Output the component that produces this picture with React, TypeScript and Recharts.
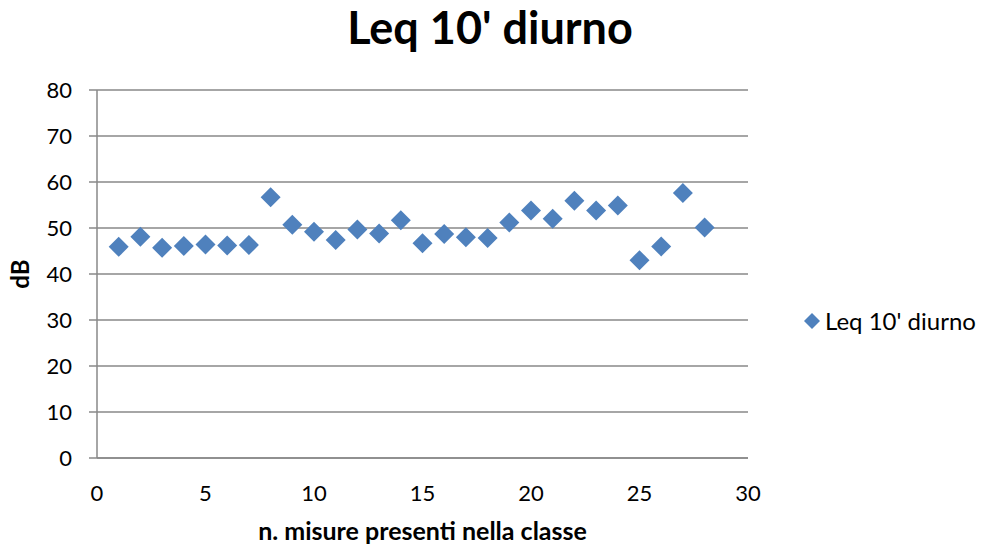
import React from 'react';
import {
  ScatterChart, Scatter, XAxis, YAxis, CartesianGrid, Legend,
} from 'recharts';

const seriesName = "Leq 10' diurno";
const measureIndex = [1, 2, 3, 4, 5, 6, 7, 8, 9, 10, 11, 12, 13, 14, 15, 16, 17, 18, 19, 20, 21, 22, 23, 24, 25, 26, 27, 28];
const leqValues = [45.9, 48.1, 45.7, 46.1, 46.4, 46.2, 46.3, 56.7, 50.7, 49.2, 47.4, 49.7, 48.8, 51.7, 46.7, 48.7, 48.0, 47.8, 51.2, 53.8, 52.0, 55.9, 53.8, 54.9, 43.0, 46.0, 57.6, 50.1];
const xTicks = [0, 5, 10, 15, 20, 25, 30];
const yTicks = [0, 10, 20, 30, 40, 50, 60, 70, 80];

const data = measureIndex.map((x, i) => ({ x, y: leqValues[i] }));

const FONT = 'Lato, "Open Sans", sans-serif';
const BLUE = '#4F81BD';
const GRID = '#888888';

// Excel-style square diamond marker
const DiamondMarker = (props: any) => {
  const { cx, cy } = props;
  const r = 10;
  return (
    <path
      d={`M${cx},${cy - r}L${cx + r},${cy}L${cx},${cy + r}L${cx - r},${cy}Z`}
      fill={BLUE}
    />
  );
};

const YTitle = (props: any) => {
  const vb = props.viewBox || {};
  const cy = vb.y + vb.height / 2;
  return (
    <text
      x={29}
      y={cy}
      transform={`rotate(-90, 29, ${cy})`}
      textAnchor="middle"
      fontFamily={FONT}
      fontWeight="bold"
      fontSize={24}
      fill="#000"
    >
      dB
    </text>
  );
};

const LegendContent = (props: any) => {
  const { payload } = props;
  return (
    <div style={{ fontFamily: FONT, fontSize: 24, color: '#000', whiteSpace: 'nowrap' }}>
      {(payload || []).map((entry: any) => (
        <div key={entry.value} style={{ display: 'flex', alignItems: 'center' }}>
          <svg width={18} height={18} style={{ marginRight: 4 }}>
            <path d="M9,1L17,9L9,17L1,9Z" fill={BLUE} />
          </svg>
          <span>{entry.value}</span>
        </div>
      ))}
    </div>
  );
};

export default function App() {
  return (
    <div style={{ position: 'absolute', left: 0, top: 0, width: 990, height: 552, background: '#fff' }}>
      <div
        style={{
          position: 'absolute', left: 0, top: 0, width: 980, textAlign: 'center',
          fontFamily: FONT, fontWeight: 'bold', fontSize: 45, color: '#000',
        }}
      >
        {seriesName}
      </div>
      <ScatterChart width={990} height={552} margin={{ top: 90, right: 242, left: 37, bottom: 34 }}>
        <CartesianGrid vertical={false} stroke={GRID} strokeWidth={1.5} />
        <XAxis
          type="number"
          dataKey="x"
          domain={[0, 30]}
          ticks={xTicks}
          height={60}
          tickLine={false}
          tickSize={0}
          tickMargin={27}
          axisLine={{ stroke: GRID, strokeWidth: 1.5 }}
          tick={{ fill: '#000', fontFamily: FONT, fontSize: 22 }}
          label={{
            value: 'n. misure presenti nella classe',
            position: 'bottom',
            offset: 4,
            fill: '#000',
            fontFamily: FONT,
            fontWeight: 'bold',
            fontSize: 25,
          }}
        />
        <YAxis
          type="number"
          dataKey="y"
          domain={[0, 80]}
          ticks={yTicks}
          width={60}
          tickSize={8}
          tickMargin={17}
          tickLine={{ stroke: GRID, strokeWidth: 1.5 }}
          axisLine={{ stroke: GRID, strokeWidth: 1.5 }}
          tick={{ fill: '#000', fontFamily: FONT, fontSize: 22 }}
          label={<YTitle />}
        />
        <Legend
          layout="horizontal"
          verticalAlign="middle"
          align="center"
          content={<LegendContent />}
          wrapperStyle={{ left: 803, top: 306, width: 187, height: 30 }}
        />
        <Scatter
          name={seriesName}
          data={data}
          fill={BLUE}
          shape={<DiamondMarker />}
          isAnimationActive={false}
        />
      </ScatterChart>
    </div>
  );
}
